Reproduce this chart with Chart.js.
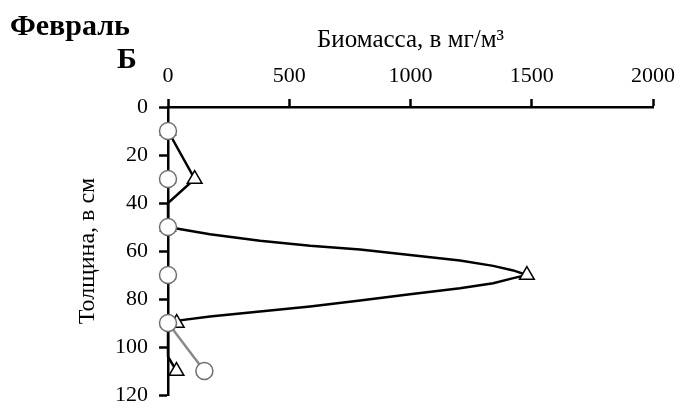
<!DOCTYPE html>
<html lang="ru">
<head>
<meta charset="utf-8">
<title>Февраль Б</title>
<script src="https://cdn.jsdelivr.net/npm/chart.js@4/dist/chart.umd.min.js"></script>
<style>
html,body{margin:0;padding:0;background:#fff}
#wrap{position:relative;width:680px;height:408px}
</style>
</head>
<body>
<div id="wrap"><canvas id="c" width="680" height="408"></canvas></div>
<script>
// sampling depths (cm) and biomass (mg/m3)
const DEPTHS = [10, 30, 50, 70, 90, 110];
const BIOMASS_CIRCLES = [0, 0, 0, 0, 0, 150];
const BIOMASS_TRIANGLES = [0, 110, 0, 1480, 36, 35];
// the black curve as drawn
const CURVE_DEPTH = [10, 30, 40, 50, 50.5, 53, 55.7, 57.8, 59.4, 61.7, 64, 66.2, 68.1, 70, 71.3, 73.4, 75.5, 78, 80.6, 83.1, 85.2, 87.3, 88.9, 90, 93, 104, 110];
const CURVE_BIOMASS = [0, 110, 0, 0, 29, 173, 379, 586, 792, 998, 1204, 1341, 1424, 1480, 1424, 1341, 1204, 998, 792, 586, 379, 173, 49, 36, 0, 0, 35];
const X_TICKS = [0, 500, 1000, 1500, 2000];
const Y_TICKS = [0, 20, 40, 60, 80, 100, 120];
const TITLE = "Февраль", PANEL = "Б";
const X_LABEL = "Биомасса, в мг/м³", Y_LABEL = "Толщина, в см";

const SERIF = "'Liberation Serif','Times New Roman',serif";
const GRAY = "#8a8a8a";
const pts = (xs, ys) => xs.map((x, i) => ({x, y: ys[i]}));

// header texts drawn on the canvas
const headings = {id: "headings", afterDraw(chart){
  const c = chart.ctx; c.save();
  c.fillStyle = "#000"; c.font = "bold 30px " + SERIF; c.textBaseline = "alphabetic";
  c.fillText(TITLE, 10, 35); c.fillText(PANEL, 117, 68);
  c.restore();
}};

new Chart(document.getElementById("c"), {
  type: "line",
  data: {datasets: [
    {label: "circles", data: pts(BIOMASS_CIRCLES, DEPTHS), borderColor: GRAY, borderWidth: 2.5,
     pointStyle: "circle", pointRadius: 8.5, pointBorderColor: "#6e6e6e", pointBackgroundColor: "#fff", pointBorderWidth: 1.5,
     segment: {borderColor: s => (s.p0.parsed.x === 0 && s.p1.parsed.x === 0) ? "rgba(0,0,0,0)" : GRAY},
     tension: 0, clip: false},
    {label: "triangles", data: pts(BIOMASS_TRIANGLES, DEPTHS), showLine: false,
     pointStyle: "triangle", pointRadius: 8.5, pointBorderColor: "#000", pointBackgroundColor: "#fff", pointBorderWidth: 1.5, clip: false},
    {label: "curve", data: pts(CURVE_BIOMASS, CURVE_DEPTH), borderColor: "#000", borderWidth: 2.5,
     pointRadius: 0, tension: 0, clip: false}
  ]},
  options: {
    responsive: false, animation: false, indexAxis: "y",
    layout: {padding: {left: 0, top: 0, right: 27, bottom: 13}},
    plugins: {legend: {display: false}, tooltip: {enabled: false}},
    scales: {
      x: {type: "linear", position: "top", min: 0, max: 2000,
        afterBuildTicks: s => { s.ticks = X_TICKS.map(v => ({value: v})); },
        afterFit: s => { s.height = 107; s.paddingLeft = 0; s.paddingRight = 0; },
        ticks: {color: "#000", font: {family: SERIF, size: 22}, padding: 9.5, maxRotation: 0, callback: v => String(v)},
        grid: {drawOnChartArea: false, drawTicks: true, tickLength: 8, tickColor: "#000", tickWidth: 2.5},
        border: {display: true, color: "#000", width: 2.5},
        title: {display: true, text: X_LABEL, color: "#000", font: {family: SERIF, size: 25}, padding: {top: 25, bottom: 0}}},
      y: {type: "linear", position: "left", reverse: true, min: 0, max: 120,
        afterBuildTicks: s => { s.ticks = Y_TICKS.map(v => ({value: v})); },
        afterFit: s => { s.width = 168; s.paddingTop = 0; s.paddingBottom = 0; },
        ticks: {color: "#000", font: {family: SERIF, size: 22}, padding: 11, callback: v => String(v)},
        grid: {drawOnChartArea: false, drawTicks: true, tickLength: 9, tickColor: "#000", tickWidth: 2.5},
        border: {display: true, color: "#000", width: 2.5},
        title: {display: true, text: Y_LABEL, color: "#000", font: {family: SERIF, size: 24}, padding: {top: 73.5, bottom: 0}}}
    }
  },
  plugins: [headings]
});
</script>
</body>
</html>
